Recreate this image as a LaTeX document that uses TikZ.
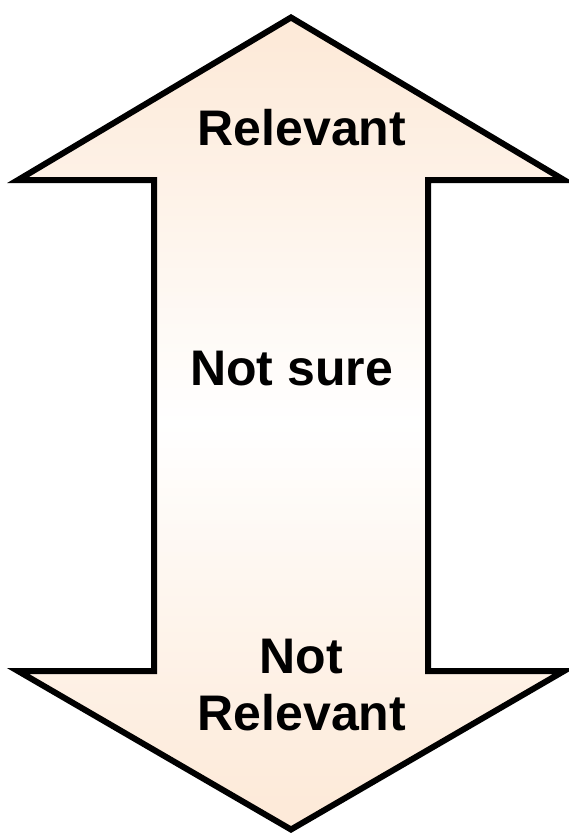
\documentclass[tikz,border=0pt]{standalone}
\usepackage{fontspec}
\setmainfont{Liberation Sans}
\definecolor{peach}{RGB}{253,234,217}
\tikzset{
  outline/.style={draw=black, line width=6pt, line join=miter},
  label/.style={font=\fontsize{50}{57}\selectfont\bfseries, inner sep=0pt, anchor=base}
}
\def\arrowpath{(291,17.5) -- (564,180) -- (428,180) -- (428,671) -- (564,671)
    -- (291,829.5) -- (18,671) -- (154,671) -- (154,180) -- (18,180) -- cycle}
\begin{document}
\begin{tikzpicture}[x=1pt, y=-1pt]
  \useasboundingbox (0,0) rectangle (569,836);
  % vertical gradient: peach at both heads, white in the middle
  \begin{scope}
    \clip \arrowpath;
    \foreach \yy in {16,20,...,832} {
      \pgfmathsetmacro{\t}{min(100,abs(\yy+2-424)/380*100)}
      \fill[peach!\t!white] (10,\yy) rectangle (570,\yy+4.6);
    }
  \end{scope}
  % double-headed vertical arrow
  \path[outline] \arrowpath;
  \node[label] (rel)    at (302,145) {Relevant};
  \node[label] (unsure) at (291.5,385) {Not sure};
  \node[label] (not)    at (301,673) {Not};
  \node[label] (notrel) at (302,730) {Relevant};
\end{tikzpicture}
\end{document}
